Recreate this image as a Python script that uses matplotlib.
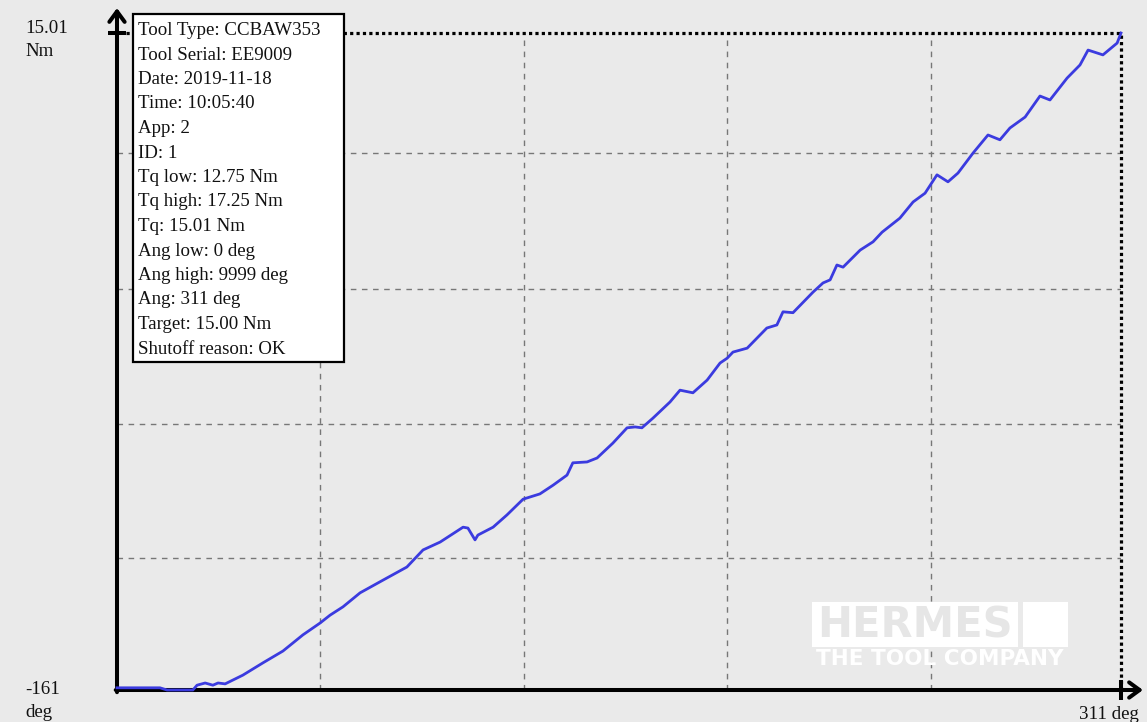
import matplotlib
matplotlib.use('Agg')
import matplotlib.pyplot as plt
from matplotlib.patches import Rectangle

# torque curve (angle in deg, torque in Nm)
angle_deg = [0.0, 7.1, 13.3, 15.5, 23.5, 24.8, 27.3, 29.7, 31.3, 33.5, 39.0, 45.2,
             51.4, 57.6, 62.9, 66.0, 70.0, 75.3, 82.4, 89.8, 94.8, 100.1, 107.2,
             108.7, 110.9, 111.8, 116.5, 120.8, 125.8, 131.0, 135.1, 139.4, 141.2,
             145.6, 148.7, 153.6, 158.0, 160.5, 162.6, 166.0, 171.3, 174.4, 178.4,
             182.8, 186.8, 189.0, 190.8, 195.2, 201.3, 204.4, 206.3, 209.4, 215.6,
             218.7, 220.9, 223.0, 224.9, 230.2, 234.2, 237.0, 242.5, 246.6, 250.3,
             254.0, 257.4, 260.5, 265.2, 269.8, 273.5, 276.6, 281.3, 285.9, 289.0,
             294.3, 298.3, 300.8, 305.4, 309.8, 311.0]
torque_nm = [0.05, 0.05, 0.05, 0.0, 0.0, 0.11, 0.16, 0.11, 0.16, 0.14, 0.34, 0.62,
             0.89, 1.26, 1.53, 1.71, 1.90, 2.22, 2.51, 2.81, 3.20, 3.38, 3.72,
             3.70, 3.43, 3.54, 3.72, 4.00, 4.36, 4.48, 4.68, 4.91, 5.19,
             5.21, 5.30, 5.64, 5.99, 6.01, 5.99, 6.21, 6.58, 6.85, 6.79,
             7.08, 7.47, 7.58, 7.72, 7.81, 8.27, 8.34, 8.64, 8.62, 9.09,
             9.30, 9.37, 9.71, 9.66, 10.05, 10.24, 10.46, 10.78, 11.15, 11.35,
             11.77, 11.61, 11.81, 12.27, 12.68, 12.57, 12.84, 13.09, 13.57, 13.48,
             13.98, 14.28, 14.62, 14.51, 14.78, 15.01]

max_angle = 311
max_torque = 15.01
grid_angles = [63, 126, 189, 252]
grid_torques = [3.02, 6.08, 9.16, 12.27]

info_lines = ['Tool Type: CCBAW353', 'Tool Serial: EE9009', 'Date: 2019-11-18',
              'Time: 10:05:40', 'App: 2', 'ID: 1', 'Tq low: 12.75 Nm',
              'Tq high: 17.25 Nm', 'Tq: 15.01 Nm', 'Ang low: 0 deg',
              'Ang high: 9999 deg', 'Ang: 311 deg', 'Target: 15.00 Nm',
              'Shutoff reason: OK']

W, H = 1147, 722
bg = '#eaeaea'
serif = 'Liberation Serif'


def fx(px):
    return px / W


def fy(py):
    return 1 - py / H


fig = plt.figure(figsize=(W / 100, H / 100), dpi=100, facecolor=bg)
ax = fig.add_axes([fx(117), fy(690), (1121 - 117) / W, (690 - 33) / H])
ax.set_xlim(0, max_angle)
ax.set_ylim(0, max_torque)
ax.axis('off')

# grid
ax.vlines(grid_angles, 0, max_torque, colors='#777777', linestyles=(0, (4, 4)), lw=1)
ax.hlines(grid_torques, 0, max_angle, colors='#777777',
          linestyles=(0, (4, 4)), lw=1)

# dotted limits
ax.plot([2.8, max_angle], [max_torque, max_torque], color='black',
        ls=(0, (1, 1)), lw=2.3, clip_on=False)
ax.plot([max_angle, max_angle], [0, max_torque], color='black',
        ls=(0, (1, 1)), lw=2.3, clip_on=False)

# curve
ax.plot(angle_deg, torque_nm, color='#3b3bdf', lw=2.0, zorder=4, clip_on=False,
        solid_joinstyle='round')

# axes with arrows
arrow = dict(arrowstyle='->,head_length=0.75,head_width=0.55', lw=2.9,
             color='black', shrinkA=0, shrinkB=0)
ax.annotate('', xy=(0, 15.58), xytext=(0, -0.05), arrowprops=arrow,
            annotation_clip=False)
ax.annotate('', xy=(317.8, 0), xytext=(-0.4, 0), arrowprops=arrow,
            annotation_clip=False)
ax.plot([-2.8, 2.8], [max_torque, max_torque], color='black', lw=2.9,
        clip_on=False, solid_capstyle='butt')
ax.plot([max_angle, max_angle], [-0.23, 0.23], color='black', lw=2.9,
        clip_on=False, solid_capstyle='butt')

# axis labels
lab = dict(fontsize=13.6, family=serif, color='#111111')
fig.text(fx(25), fy(33), '15.01', va='baseline', **lab)
fig.text(fx(25), fy(56), 'Nm', va='baseline', **lab)
fig.text(fx(25), fy(694), '-161', va='baseline', **lab)
fig.text(fx(25), fy(717), 'deg', va='baseline', **lab)
fig.text(fx(1139), fy(719), '311 deg', va='baseline', ha='right', **lab)

# info box
fig.add_artist(Rectangle((fx(133), fy(362)), (344 - 133) / W, (362 - 14) / H,
                         transform=fig.transFigure, facecolor='white',
                         edgecolor='black', lw=1.6, zorder=5))
for i, line in enumerate(info_lines):
    fig.text(fx(138), fy(35 + i * 24.5), line, va='baseline', zorder=6, **lab)

# logo watermark
fig.add_artist(Rectangle((fx(812), fy(647)), (1018 - 812) / W, (647 - 602) / H,
                         transform=fig.transFigure, facecolor='white',
                         edgecolor='none', zorder=2))
fig.add_artist(Rectangle((fx(1023), fy(647)), (1068 - 1023) / W, (647 - 602) / H,
                         transform=fig.transFigure, facecolor='white',
                         edgecolor='none', zorder=2))
fig.text(fx(915), fy(625), 'HERMES', ha='center', va='center', fontsize=30,
         family='DejaVu Sans', weight='bold', color='#e6e6e6', zorder=3)
fig.text(fx(940), fy(659), 'THE TOOL COMPANY', ha='center', va='center',
         fontsize=15.5, family='DejaVu Sans', weight='bold', color='white', zorder=3)

fig.savefig('out.png', dpi=100, facecolor=bg)
